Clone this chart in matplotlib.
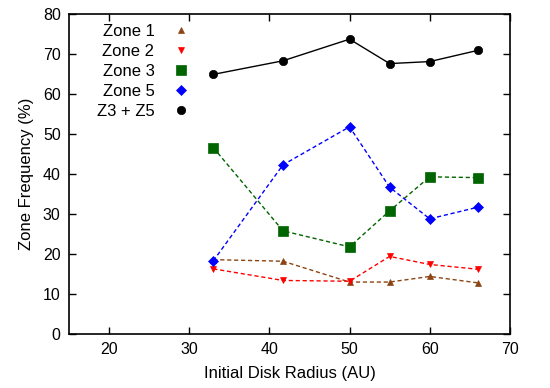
import matplotlib
matplotlib.use("Agg")
import matplotlib.pyplot as plt

plt.rcParams['font.family'] = ['Liberation Sans', 'DejaVu Sans']

# Dados
radius = [33, 41.7, 50, 55, 60, 66]
zone1 = [18.6, 18.2, 13.0, 13.0, 14.4, 12.8]
zone2 = [16.3, 13.4, 13.2, 19.4, 17.4, 16.2]
zone3 = [46.6, 25.8, 21.8, 30.8, 39.3, 39.1]
zone5 = [18.3, 42.3, 51.8, 36.7, 28.8, 31.7]
z3_z5 = [64.9, 68.3, 73.7, 67.6, 68.1, 70.9]

labels = ['Zone 1', 'Zone 2', 'Zone 3', 'Zone 5', 'Z3 + Z5']
colors = ['#8b4513', '#ff0000', '#006400', '#0000ff', '#000000']
markers = ['^', 'v', 's', 'D', 'o']
msizes = [5, 5, 7, 5, 6]

fig = plt.figure(figsize=(5.5, 3.88), dpi=100)
ax = fig.add_axes([0.1255, 0.139, 0.8015, 0.825])

series = [zone1, zone2, zone3, zone5, z3_z5]
for i, vals in enumerate(series):
    ls = '-' if i == 4 else (0, (3, 2))
    ax.plot(radius, vals, linestyle=ls, linewidth=1.0, color=colors[i],
            marker=markers[i], markersize=msizes[i], markeredgewidth=0.5,
            label=labels[i])

ax.set_xlim(15, 70)
ax.set_ylim(0, 80)
ax.set_xticks([20, 30, 40, 50, 60, 70])
ax.set_yticks([0, 10, 20, 30, 40, 50, 60, 70, 80])
ax.tick_params(direction='in', top=True, right=True, length=5, width=1,
               labelsize=11.5, pad=6)
for s in ax.spines.values():
    s.set_linewidth(1.2)

ax.set_xlabel('Initial Disk Radius (AU)', fontsize=12, labelpad=6)
ax.set_ylabel('Zone Frequency (%)', fontsize=12, labelpad=6)

leg = ax.legend(loc='upper left', frameon=False, markerfirst=False,
                fontsize=12, handlelength=1.2, handletextpad=1.0,
                labelspacing=0.3, borderaxespad=0.2,
                bbox_to_anchor=(0.04, 1.0))
for h in leg.get_lines():
    h.set_linestyle('none')

fig.savefig('out.png', dpi=100)
